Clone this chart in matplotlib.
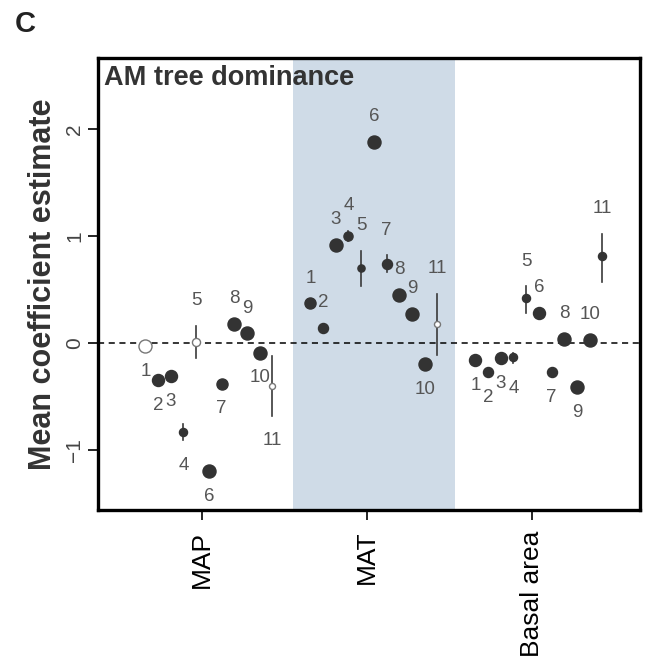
import matplotlib
matplotlib.use('Agg')
import matplotlib.pyplot as plt
import numpy as np

plt.rcParams['font.family'] = ['Liberation Sans', 'DejaVu Sans']

# 数据
groups = ['MAP', 'MAT', 'Basal area']
ids = [str(i) for i in range(1, 12)]

map_est = [-0.03, -0.35, -0.31, -0.83, 0.01, -1.20, -0.38, 0.18, 0.09, -0.09, -0.40]
mat_est = [0.37, 0.14, 0.92, 1.00, 0.70, 1.88, 0.74, 0.45, 0.27, -0.20, 0.18]
ba_est = [-0.16, -0.27, -0.14, -0.13, 0.42, 0.28, -0.27, 0.04, -0.41, 0.03, 0.81]

# 置信区间 (None = 没有画)
map_ci = [None, None, None, (-0.91, -0.76), (-0.14, 0.16), None, None, None, None, None, (-0.68, -0.12)]
mat_ci = [None, None, None, (0.95, 1.05), (0.53, 0.86), None, (0.66, 0.82), None, None, None, (-0.11, 0.46)]
ba_ci = [None, None, None, (-0.19, -0.09), (0.28, 0.53), None, None, None, None, None, (0.57, 1.02)]

# 显著 = 实心
map_sig = [0, 1, 1, 1, 0, 1, 1, 1, 1, 1, 0]
mat_sig = [1, 1, 1, 1, 1, 1, 1, 1, 1, 1, 0]
ba_sig = [1, 1, 1, 1, 1, 1, 1, 1, 1, 1, 1]

# 相对权重 (点大小)
map_w = [1.0, 0.92, 0.92, 0.62, 0.62, 1.0, 0.85, 1.0, 1.0, 1.0, 0.46]
mat_w = [0.85, 0.77, 1.0, 0.7, 0.55, 1.0, 0.77, 1.0, 1.0, 1.0, 0.46]
ba_w = [0.92, 0.77, 0.92, 0.62, 0.62, 0.92, 0.77, 1.0, 1.0, 1.0, 0.62]

# 标签在点的上方(a)或下方(b)
map_side = ['b', 'b', 'b', 'b', 'a', 'b', 'b', 'a', 'a', 'b', 'b']
mat_side = ['a', 'a', 'a', 'a', 'a', 'a', 'a', 'a', 'a', 'b', 'a']
ba_side = ['b', 'b', 'b', 'b', 'a', 'a', 'b', 'a', 'b', 'a', 'a']

series = [
    (map_est, map_ci, map_sig, map_w, map_side),
    (mat_est, mat_ci, mat_sig, mat_w, mat_side),
    (ba_est, ba_ci, ba_sig, ba_w, ba_side),
]

fig = plt.figure(figsize=(6.55, 6.67), dpi=100)
ax = fig.add_axes([0.1496, 0.2354, 0.8275, 0.6776])

ax.axvspan(1.552, 2.533, color='#cfdbe7', zorder=0, lw=0)
ax.axhline(0, color='black', ls=(0, (4, 3)), lw=1.1, zorder=1)

offsets = -0.343 + 0.077 * np.arange(11)
dot = '#333333'
max_ms = 9.4

for g, (est, ci, sig, w, side) in enumerate(series):
    for i in range(11):
        x = g + 1 + offsets[i]
        y = est[i]
        if ci[i] is not None:
            ax.plot([x, x], ci[i], color='#3a3a3a', lw=1.2, zorder=2)
        if sig[i]:
            ax.plot(x, y, 'o', ms=max_ms * w[i], color=dot, mec=dot, zorder=3)
        else:
            ax.plot(x, y, 'o', ms=max_ms * w[i], mfc='white', mec='#777777', mew=1.0, zorder=3)
        if side[i] == 'a':
            y_end = ci[i][1] if ci[i] is not None else y
            ty = y_end + 0.235
        else:
            y_end = ci[i][0] if ci[i] is not None else y
            ty = y_end - 0.235
        ax.text(x, ty, ids[i], ha='center', va='center', fontsize=13.5, color='#555555')

ax.set_xlim(0.37, 3.655)
ax.set_ylim(-1.561, 2.664)
ax.set_xticks([1, 2, 3])
ax.set_xticklabels(groups, rotation=90, fontsize=19)
ax.set_yticks([-1, 0, 1, 2])
ax.set_yticklabels(['\u22121', '0', '1', '2'], rotation=90, va='center', fontsize=15, color='#444444')
ax.tick_params(axis='both', length=7, width=1.2, direction='out')
ax.tick_params(axis='x', pad=8)
ax.tick_params(axis='y', pad=3)
for s in ax.spines.values():
    s.set_linewidth(2.4)

ax.set_ylabel('Mean coefficient estimate', fontsize=22, fontweight='bold', color='#333333', labelpad=5)
ax.text(0.012, 0.985, 'AM tree dominance', transform=ax.transAxes, ha='left', va='top',
        fontsize=19.5, fontweight='bold', color='#333333')
fig.text(0.023, 0.985, 'C', fontsize=21, fontweight='bold', color='#222222', va='top')

fig.savefig('out.png', dpi=100)
